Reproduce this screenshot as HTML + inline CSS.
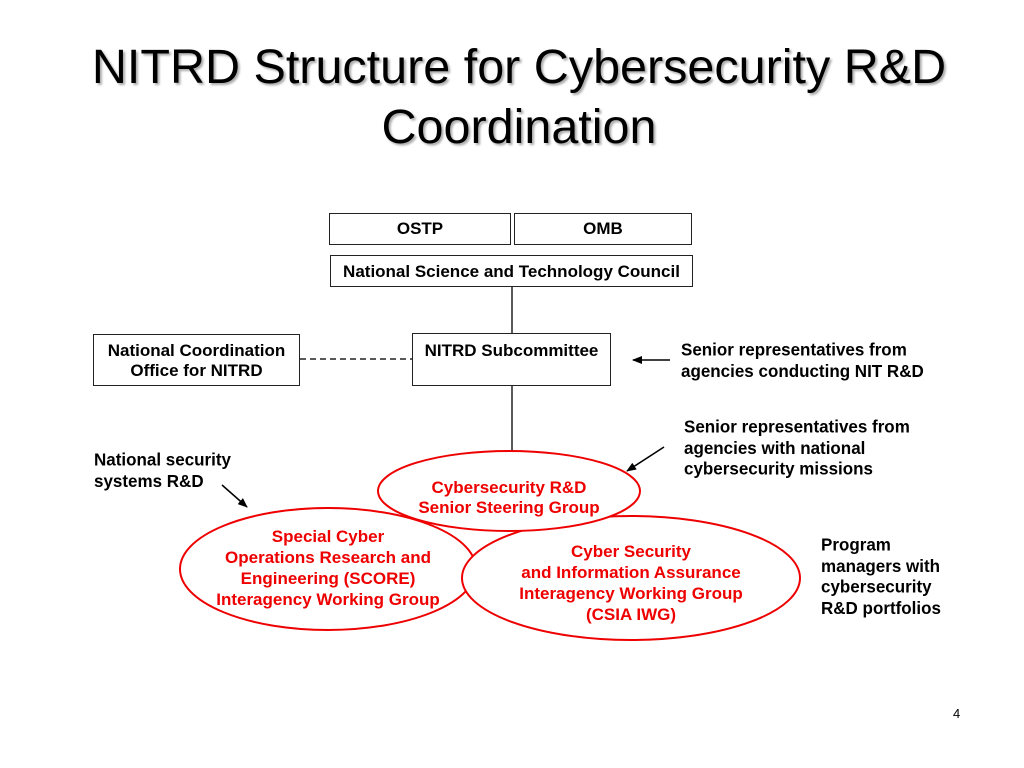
<!DOCTYPE html>
<html><head><style>
body{margin:0;width:1024px;height:768px;background:#fff;position:relative;overflow:hidden;font-family:"Liberation Sans",Arial,sans-serif}
.t{position:absolute;left:7px;width:1024px;text-align:center;font-size:48.5px;line-height:60px;top:37px;color:#000;text-shadow:2px 2px 2px #aaa}
.b{position:absolute;font-weight:bold;font-size:17px;line-height:20px;color:#000;transform-origin:0 0;transform:scaleY(1.05)}
.box{position:absolute;border:1.5px solid #222;box-sizing:border-box;text-align:center;font-weight:bold;font-size:17px;line-height:20px;background:#fff}
.r{position:absolute;font-weight:bold;font-size:17px;line-height:21px;color:#e00;text-align:center}
</style></head><body>
<div class="t">NITRD Structure for Cybersecurity R&amp;D<br>Coordination</div>
<svg width="1024" height="768" style="position:absolute;left:0;top:0">
<defs><marker id="a" markerWidth="10" markerHeight="8" refX="9" refY="4" orient="auto" markerUnits="userSpaceOnUse"><path d="M0,0 L10,4 L0,8 z" fill="#000"/></marker></defs>
<line x1="512" y1="286" x2="512" y2="334" stroke="#222" stroke-width="1.5"/>
<line x1="512" y1="385" x2="512" y2="460" stroke="#222" stroke-width="1.5"/>
<line x1="300" y1="359" x2="412" y2="359" stroke="#222" stroke-width="1.5" stroke-dasharray="6,4"/>
<line x1="670" y1="360" x2="633" y2="360" stroke="#000" stroke-width="1.5" marker-end="url(#a)"/>
<line x1="664" y1="447" x2="627" y2="471" stroke="#000" stroke-width="1.5" marker-end="url(#a)"/>
<line x1="222" y1="485" x2="247" y2="507" stroke="#000" stroke-width="1.5" marker-end="url(#a)"/>
<ellipse cx="328" cy="569" rx="148" ry="61" fill="#fff" stroke="#e00" stroke-width="2"/>
<ellipse cx="631" cy="578" rx="169" ry="62" fill="#fff" stroke="#e00" stroke-width="2"/>
<ellipse cx="509" cy="491" rx="131" ry="40" fill="#fff" stroke="#e00" stroke-width="2"/>
</svg>
<div class="box" style="left:329px;top:213px;width:182px;height:32px;padding-top:5px">OSTP</div>
<div class="box" style="left:514px;top:213px;width:178px;height:32px;padding-top:5px">OMB</div>
<div class="box" style="left:330px;top:255px;width:363px;height:32px;padding-top:6px">National Science and Technology Council</div>
<div class="box" style="left:412px;top:333px;width:199px;height:53px;padding-top:7px">NITRD Subcommittee</div>
<div class="box" style="left:93px;top:334px;width:207px;height:52px;padding-top:6px">National Coordination<br>Office for NITRD</div>
<div class="b" style="left:681px;top:340px">Senior representatives from<br>agencies conducting NIT R&amp;D</div>
<div class="b" style="left:684px;top:417px">Senior representatives from<br>agencies with national<br>cybersecurity missions</div>
<div class="b" style="left:94px;top:450px">National security<br>systems R&amp;D</div>
<div class="b" style="left:821px;top:535px">Program<br>managers with<br>cybersecurity<br>R&amp;D portfolios</div>
<div class="r" style="left:378px;top:478px;width:262px;line-height:20px">Cybersecurity R&amp;D<br>Senior Steering Group</div>
<div class="r" style="left:180px;top:526px;width:296px">Special Cyber<br>Operations Research and<br>Engineering (SCORE)<br>Interagency Working Group</div>
<div class="r" style="left:462px;top:541px;width:338px">Cyber Security<br>and Information Assurance<br>Interagency Working Group<br>(CSIA IWG)</div>
<div style="position:absolute;left:953px;top:706px;font-size:13px">4</div>
</body></html>
